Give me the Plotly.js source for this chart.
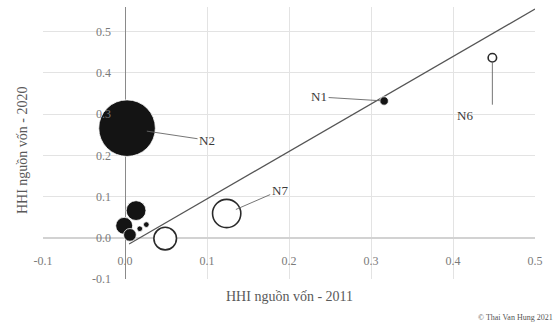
<!DOCTYPE html>
<html>
<head>
<meta charset="utf-8">
<script src="https://cdn.plot.ly/plotly-3.0.1.min.js"></script>
<style>html,body{margin:0;padding:0;background:#fff;}#chart{width:559px;height:328px;}</style>
</head>
<body>
<div id="chart"></div>
<script>
// Filled bubbles
var filledNames = ["N2", "N1", "A", "B1", "B2", "C1", "C2"];
var filledX = [0.0025, 0.316, 0.0135, -0.001, 0.006, 0.026, 0.018];
var filledY = [0.266, 0.332, 0.066, 0.029, 0.007, 0.032, 0.022];
var filledSize = [16.0, 0.36, 1.96, 1.44, 0.81, 0.16, 0.16];

// Hollow bubbles
var hollowNames = ["N7", "N0", "N6"];
var hollowX = [0.124, 0.049, 0.448];
var hollowY = [0.059, -0.002, 0.437];
var hollowSize = [4.0, 2.56, 0.36];

// Trend line
var trendX = [0.005, 0.5];
var trendY = [-0.015, 0.555];

// Ticks
var xTickVals = [-0.1, 0.0, 0.1, 0.2, 0.3, 0.4, 0.5];
var xTickText = ["-0.1", "0.0", "0.1", "0.2", "0.3", "0.4", "0.5"];
var yTickVals = [-0.1, 0.0, 0.1, 0.2, 0.3, 0.4, 0.5];
var yTickText = ["-0.1", "0.0", "0.1", "0.2", "0.3", "0.4", "0.5"];

var xTitle = "HHI nguồn vốn - 2011";
var yTitle = "HHI nguồn vốn - 2020";
var credit = "© Thai Van Hung 2021";

var FONT = "Liberation Serif";
var xRange = [-0.1, 0.5];
var yRange = [-0.1, 0.56];

var traces = [
  {
    type: "scatter", mode: "lines", x: trendX, y: trendY,
    line: {color: "#555555", width: 1.2}, hoverinfo: "skip", showlegend: false
  },
  {
    type: "scatter", mode: "markers", x: hollowX, y: hollowY, text: hollowNames,
    marker: {size: hollowSize, sizemode: "area", sizeref: 0.01, color: "#ffffff", opacity: 1,
             line: {color: "#2a2a2a", width: 1.6}},
    showlegend: false
  },
  {
    type: "scatter", mode: "markers", x: filledX, y: filledY, text: filledNames,
    marker: {size: filledSize, sizemode: "area", sizeref: 0.01, color: "#141414", opacity: 1,
             line: {color: "#ffffff", width: 0.8}},
    showlegend: false
  }
];

function lbl(name, x, y, ax, ay, standoff, extra) {
  var a = {x: x, y: y, xref: "x", yref: "y", text: name, showarrow: true,
    arrowhead: 0, arrowwidth: 0.9, arrowcolor: "#666666", ax: ax, ay: ay,
    standoff: standoff, font: {family: FONT, size: 13, color: "#3a3a3a"}};
  if (extra) for (var k in extra) a[k] = extra[k];
  return a;
}

var annotations = [
  lbl(filledNames[0], filledX[0], filledY[0], 80, 12, 20),
  lbl(filledNames[1], filledX[1], filledY[1], -65, -4, 3),
  lbl(hollowNames[0], hollowX[0], hollowY[0], 53, -23, 10),
  lbl(" ", hollowX[2], hollowY[2], 0, 56, 4),
  {x: hollowX[2], y: hollowY[2], xref: "x", yref: "y", text: hollowNames[2], showarrow: false,
   xshift: -27, yshift: -58, font: {family: FONT, size: 13, color: "#3a3a3a"}},
  {xref: "paper", yref: "paper", x: 0.5, y: -0.0625, text: xTitle, showarrow: false,
   xanchor: "center", yanchor: "middle", font: {family: FONT, size: 14, color: "#595959"}},
  {xref: "paper", yref: "paper", x: -0.0427, y: 0.474, text: yTitle, showarrow: false,
   textangle: -90, xanchor: "center", yanchor: "middle", font: {family: FONT, size: 14, color: "#595959"}},
  {xref: "paper", yref: "paper", x: 1.0407, y: -0.14, text: credit, showarrow: false,
   xanchor: "right", yanchor: "middle", font: {family: FONT, size: 8, color: "#555555"}}
];

var layout = {
  width: 559, height: 328,
  margin: {l: 43, r: 24, t: 7, b: 49, pad: 0},
  paper_bgcolor: "#ffffff", plot_bgcolor: "#ffffff",
  font: {family: FONT},
  xaxis: {
    range: xRange, tickmode: "array", tickvals: xTickVals, ticktext: xTickText,
    showgrid: true, gridcolor: "#e3e3e3", gridwidth: 1,
    zeroline: true, zerolinecolor: "#8a8a8a", zerolinewidth: 1,
    showline: false, ticks: "", anchor: "free",
    position: (0 - yRange[0]) / (yRange[1] - yRange[0]),
    ticklabelstandoff: 14,
    tickfont: {family: FONT, size: 12, color: "#7a7a7a"}
  },
  yaxis: {
    range: yRange, tickmode: "array", tickvals: yTickVals, ticktext: yTickText,
    showgrid: true, gridcolor: "#e3e3e3", gridwidth: 1,
    zeroline: true, zerolinecolor: "#d2d2d2", zerolinewidth: 2.5,
    showline: false, ticks: "", anchor: "free",
    position: (0 - xRange[0]) / (xRange[1] - xRange[0]),
    ticklabelstandoff: 14,
    tickfont: {family: FONT, size: 12, color: "#7a7a7a"}
  },
  annotations: annotations,
  showlegend: false
};

Plotly.newPlot("chart", traces, layout, {displayModeBar: false, staticPlot: true});
</script>
</body>
</html>
